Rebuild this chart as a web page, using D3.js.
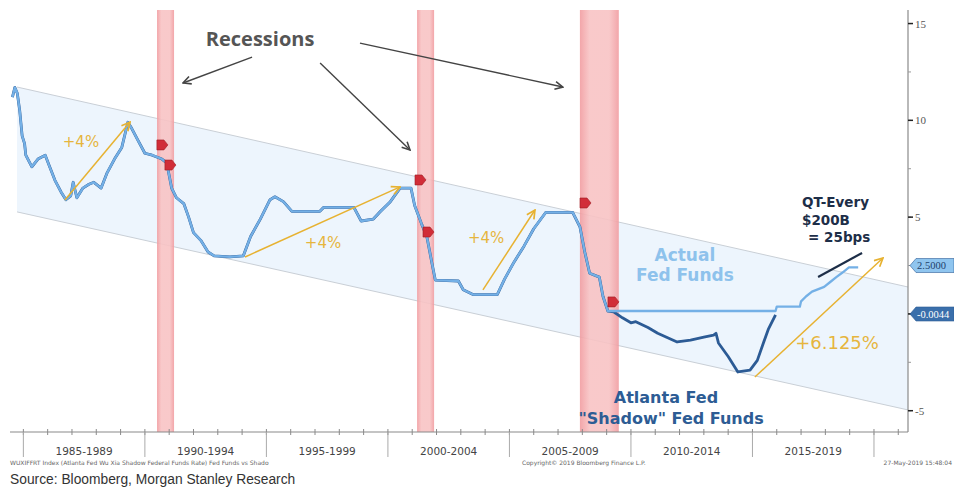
<!DOCTYPE html>
<html>
<head>
<meta charset="utf-8">
<script src="https://cdn.jsdelivr.net/npm/d3@7"></script>
<style>
  body { margin: 0; background: #fff; }
  svg { display: block; }
</style>
</head>
<body>
<script>
// Fed funds (effective): [year, %]
const fedFunds = [
  [1984.55, 11.2], [1984.65, 11.7], [1984.75, 11.4], [1984.85, 10.5], [1984.95, 9.2],
  [1985.05, 8.8], [1985.1, 8.2], [1985.35, 7.6], [1985.6, 8.0], [1985.9, 8.2],
  [1986.05, 7.7], [1986.3, 6.9], [1986.55, 6.3], [1986.75, 5.9], [1986.95, 6.1],
  [1987.05, 6.8], [1987.2, 6.0], [1987.45, 6.5], [1987.7, 6.7], [1987.9, 6.8],
  [1988.2, 6.5], [1988.45, 7.3], [1988.75, 8.0], [1989.05, 8.6], [1989.3, 9.9],
  [1989.45, 9.6], [1989.7, 9.0], [1990.0, 8.3], [1990.3, 8.2], [1990.7, 8.0],
  [1990.9, 7.8], [1991.1, 6.5], [1991.3, 6.0], [1991.6, 5.7], [1991.8, 5.0],
  [1992.0, 4.2], [1992.3, 3.8], [1992.6, 3.2], [1992.85, 3.0], [1993.5, 2.95],
  [1994.05, 3.0], [1994.35, 4.0], [1994.75, 4.9], [1995.15, 5.9], [1995.35, 6.05],
  [1995.7, 5.8], [1996.05, 5.3], [1997.2, 5.3], [1997.35, 5.5], [1998.6, 5.5],
  [1998.9, 4.8], [1999.4, 4.9], [1999.7, 5.3], [2000.1, 5.8], [2000.5, 6.5],
  [2000.95, 6.5], [2001.1, 5.6], [2001.4, 4.6], [2001.6, 4.0], [2001.8, 2.7],
  [2001.95, 1.75], [2002.9, 1.7], [2003.1, 1.25], [2003.5, 1.0], [2004.5, 1.0],
  [2004.8, 1.8], [2005.2, 2.7], [2005.6, 3.5], [2006.0, 4.4], [2006.5, 5.25],
  [2007.6, 5.25], [2007.9, 4.5], [2008.1, 3.2], [2008.3, 2.1], [2008.7, 1.9],
  [2008.85, 0.9], [2009.05, 0.15], [2015.95, 0.15], [2016.0, 0.375], [2016.95, 0.375],
  [2017.0, 0.65], [2017.2, 0.9], [2017.45, 1.15], [2017.95, 1.4], [2018.2, 1.65],
  [2018.45, 1.9], [2018.72, 2.15], [2018.97, 2.4], [2019.35, 2.4]
];

// Wu-Xia shadow rate while at the zero bound
const shadowRate = [
  [2009.05, 0.15], [2009.3, 0.1], [2009.65, -0.2], [2010.0, -0.46], [2010.2, -0.4],
  [2010.7, -0.7], [2011.1, -1.0], [2011.9, -1.45], [2012.45, -1.35], [2013.0, -1.2],
  [2013.4, -1.1], [2013.5, -1.0], [2013.6, -1.5], [2014.0, -2.2], [2014.4, -3.0],
  [2014.9, -2.9], [2015.2, -2.4], [2015.45, -1.5], [2015.65, -0.8], [2015.95, -0.05]
];

const recessions = [[1990.5, 1991.2], [2001.2, 2001.9], [2007.9, 2009.5]];
const eventMarks = [[1990.70, 8.73], [1991.03, 7.69], [2001.32, 6.92], [2001.65, 4.23], [2008.11, 5.73], [2009.26, 0.62]];

// declining channel (upper / lower edge)
const channelUpper = [[1984.74, 11.72], [2021.4, 1.39]];
const channelLower = [[1984.74, 5.27], [2021.4, -4.96]];

const periodLabels = ["1985-1989", "1990-1994", "1995-1999", "2000-2004", "2005-2009", "2010-2014", "2015-2019"];
const periodStarts = [1985, 1990, 1995, 2000, 2005, 2010, 2015, 2020];
const yTicks = [-5, 0, 5, 10, 15];
const lastValues = [{ v: 2.5, text: "2.5000", fill: "#8fc5ef", color: "#1e3f6b" },
                    { v: -0.0044, text: "-0.0044", fill: "#3a6fab", color: "#ffffff" }];

// annotations, in data units
const hikeArrows = [
  [[1986.71, 5.89], [1989.39, 9.91]],
  [[1994.12, 2.94], [2000.50, 6.56]],
  [[2003.91, 1.24], [2006.05, 5.37]],
  [[2015.10, -3.26], [2020.37, 2.89]]
];
const hikeLabels = [
  { t: "+4%", at: [1987.37, 8.88], size: 15 },
  { t: "+4%", at: [1997.33, 3.66], size: 15 },
  { t: "+4%", at: [2004.04, 3.92], size: 15 },
  { t: "+6.125%", at: [2018.48, -1.50], size: 18 }
];
const recessionArrows = [
  [[1994.41, 13.27], [1991.57, 11.93]],
  [[1997.21, 12.96], [2000.91, 8.47]],
  [[1998.85, 13.99], [2007.20, 11.72]]
];
const qtLine = [[2017.7, 1.91], [2019.51, 3.15]];

const W = 954, H = 487;
const svg = d3.select("body").append("svg").attr("width", W).attr("height", H);

const x = d3.scaleLinear().domain([1984.45, 2021.4]).range([10, 908]);
const y = d3.scaleLinear().domain([-6.1, 15.7]).range([432, 10]);

const defs = svg.append("defs");
defs.append("clipPath").attr("id", "plot")
  .append("rect").attr("x", 10).attr("y", 10).attr("width", 898).attr("height", 422);

const grad = defs.append("linearGradient").attr("id", "rec");
[[0, "#f19ca0"], [0.25, "#f8c3c4"], [0.75, "#f8c3c4"], [1, "#f19ca0"]].forEach(([o, c]) =>
  grad.append("stop").attr("offset", o).attr("stop-color", c));

function arrowMarker(id, color) {
  defs.append("marker").attr("id", id)
    .attr("viewBox", "0 0 10 10").attr("refX", 9).attr("refY", 5)
    .attr("markerWidth", 7).attr("markerHeight", 7).attr("orient", "auto")
    .append("path").attr("d", "M1,1 L9,5 L1,9")
    .attr("fill", "none").attr("stroke", color).attr("stroke-width", 1.6);
}
arrowMarker("grayHead", "#444");
arrowMarker("goldHead", "#e7b231");

const plot = svg.append("g").attr("clip-path", "url(#plot)");

// channel
plot.append("path")
  .attr("d", d3.line()(channelUpper.concat(channelLower.slice().reverse()).map(d => [x(d[0]), y(d[1])])) + "Z")
  .attr("fill", "#edf5fd");
[channelUpper, channelLower].forEach(edge => {
  plot.append("line")
    .attr("x1", x(edge[0][0])).attr("y1", y(edge[0][1]))
    .attr("x2", x(edge[1][0])).attr("y2", y(edge[1][1]))
    .attr("stroke", "#c9cfd6").attr("stroke-width", 1);
});

// recession bars
plot.selectAll(".rec").data(recessions).enter().append("rect")
  .attr("x", d => x(d[0])).attr("width", d => x(d[1]) - x(d[0]))
  .attr("y", 10).attr("height", 422)
  .attr("fill", "url(#rec)").attr("opacity", 0.9);

const line = d3.line().x(d => x(d[0])).y(d => y(d[1]));

// shadow rate = fed funds until the zero bound, then the Wu-Xia estimate
const shadowFull = fedFunds.filter(d => d[0] < 2009.05).concat(shadowRate);
plot.append("path").attr("d", line(shadowFull))
  .attr("fill", "none").attr("stroke", "#2c5b95").attr("stroke-width", 2.8)
  .attr("stroke-linejoin", "round");
plot.append("path").attr("d", line(fedFunds))
  .attr("fill", "none").attr("stroke", "#74b0e6").attr("stroke-width", 2.3)
  .attr("stroke-linejoin", "round");

// QT line
plot.append("line")
  .attr("x1", x(qtLine[0][0])).attr("y1", y(qtLine[0][1]))
  .attr("x2", x(qtLine[1][0])).attr("y2", y(qtLine[1][1]))
  .attr("stroke", "#1d2e48").attr("stroke-width", 2.2);

// event markers
plot.selectAll(".ev").data(eventMarks).enter().append("path")
  .attr("transform", d => `translate(${x(d[0])},${y(d[1])})`)
  .attr("d", "M-5,-5 L2,-5 L6,0 L2,5 L-5,5 Z")
  .attr("fill", "#d12d38").attr("stroke", "#9e1c24").attr("stroke-width", 0.6);

// arrows
svg.selectAll(".ga").data(recessionArrows).enter().append("line")
  .attr("x1", d => x(d[0][0])).attr("y1", d => y(d[0][1]))
  .attr("x2", d => x(d[1][0])).attr("y2", d => y(d[1][1]))
  .attr("stroke", "#444").attr("stroke-width", 1.4).attr("marker-end", "url(#grayHead)");
svg.selectAll(".ya").data(hikeArrows).enter().append("line")
  .attr("x1", d => x(d[0][0])).attr("y1", d => y(d[0][1]))
  .attr("x2", d => x(d[1][0])).attr("y2", d => y(d[1][1]))
  .attr("stroke", "#e7b231").attr("stroke-width", 1.5).attr("marker-end", "url(#goldHead)");

svg.selectAll(".hl").data(hikeLabels).enter().append("text")
  .attr("x", d => x(d.at[0])).attr("y", d => y(d.at[1]))
  .attr("text-anchor", "middle").attr("dominant-baseline", "central")
  .attr("font-family", "DejaVu Sans, sans-serif").attr("font-size", d => d.size)
  .attr("fill", "#e6b53e").text(d => d.t);

function label(t, at, opts) {
  svg.append("text").attr("x", x(at[0])).attr("y", y(at[1]))
    .attr("text-anchor", opts.anchor || "middle").attr("dominant-baseline", "central")
    .attr("font-family", opts.font || "DejaVu Sans, sans-serif").attr("font-weight", "bold")
    .attr("font-size", opts.size).attr("fill", opts.color).text(t);
}
label("Recessions", [1994.74, 14.25], { size: 20, color: "#555", font: "Open Sans, sans-serif" });
label("Actual", [2012.22, 3.04], { size: 17, color: "#8ec2ec" });
label("Fed Funds", [2012.22, 2.01], { size: 17, color: "#8ec2ec" });
label("Atlanta Fed", [2011.44, -4.34], { size: 16, color: "#2d5c94" });
label("\"Shadow\" Fed Funds", [2011.65, -5.38], { size: 16, color: "#2d5c94" });
label("QT-Every", [2017.04, 5.78], { size: 13.5, color: "#1d2e48", anchor: "start" });
label("$200B", [2017.04, 4.85], { size: 13.5, color: "#1d2e48", anchor: "start" });
label("= 25bps", [2017.29, 3.97], { size: 13.5, color: "#1d2e48", anchor: "start" });

// bottom axis
const axisCol = "#8a8a8a";
svg.append("line").attr("x1", 10).attr("x2", 908).attr("y1", 432).attr("y2", 432)
  .attr("stroke", axisCol).attr("stroke-width", 1.2);
svg.selectAll(".yr").data(d3.range(1985, 2022)).enter().append("line")
  .attr("x1", d => x(d)).attr("x2", d => x(d)).attr("y1", 429).attr("y2", 435)
  .attr("stroke", axisCol);
svg.selectAll(".maj").data(periodStarts).enter().append("line")
  .attr("x1", d => x(d)).attr("x2", d => x(d)).attr("y1", 432).attr("y2", 457)
  .attr("stroke", "#aaa");
svg.selectAll(".pl").data(periodLabels).enter().append("text")
  .attr("x", (d, i) => x(periodStarts[i] + 2.5)).attr("y", 455)
  .attr("text-anchor", "middle").attr("font-family", "DejaVu Sans, sans-serif")
  .attr("font-size", 10.5).attr("fill", "#444").text(d => d);

// right axis
svg.append("line").attr("x1", 908).attr("x2", 908).attr("y1", 10).attr("y2", 432)
  .attr("stroke", axisCol).attr("stroke-width", 1.2);
svg.selectAll(".ymin").data(d3.range(-5, 15.1, 2.5)).enter().append("line")
  .attr("x1", 908).attr("x2", 911).attr("y1", d => y(d)).attr("y2", d => y(d))
  .attr("stroke", "#999");
svg.selectAll(".ymaj").data(yTicks).enter().append("line")
  .attr("x1", 908).attr("x2", 913).attr("y1", d => y(d)).attr("y2", d => y(d))
  .attr("stroke", "#222").attr("stroke-width", 1.5);
svg.selectAll(".yl").data(yTicks.filter(v => v !== 0)).enter().append("text")
  .attr("x", 915).attr("y", d => y(d)).attr("dominant-baseline", "central")
  .attr("font-family", "Liberation Serif, serif").attr("font-size", 11).attr("fill", "#555")
  .text(d => d);

// last value tags
const tags = svg.selectAll(".tag").data(lastValues).enter().append("g")
  .attr("transform", d => `translate(910,${y(d.v)})`);
tags.append("path").attr("d", "M0,0 L6,-7 L44,-7 L44,7 L6,7 Z")
  .attr("fill", d => d.fill).attr("stroke", "#2c5b95").attr("stroke-width", 0.6);
tags.append("text").attr("x", 7).attr("y", 0).attr("dominant-baseline", "central")
  .attr("font-family", "Liberation Serif, serif").attr("font-size", 10.5)
  .attr("fill", d => d.color).text(d => d.text);

// footer
const foot = { "font-family": "DejaVu Sans, sans-serif", "font-size": 6, fill: "#666" };
function footText(t, xp, anchor) {
  const el = svg.append("text").attr("x", xp).attr("y", 465).attr("text-anchor", anchor).text(t);
  Object.entries(foot).forEach(([k, v]) => el.attr(k, v));
}
footText("WUXIFFRT Index (Atlanta Fed Wu Xia Shadow Federal Funds Rate) Fed Funds vs Shado", 10, "start");
footText("Copyright\u00a9 2019 Bloomberg Finance L.P.", 522, "start");
footText("27-May-2019 15:48:04", 952, "end");

svg.append("text").attr("x", 10).attr("y", 484)
  .attr("font-family", "Liberation Sans, Arial, sans-serif").attr("font-size", 13.8)
  .attr("fill", "#333").text("Source: Bloomberg, Morgan Stanley Research");
</script>
</body>
</html>
